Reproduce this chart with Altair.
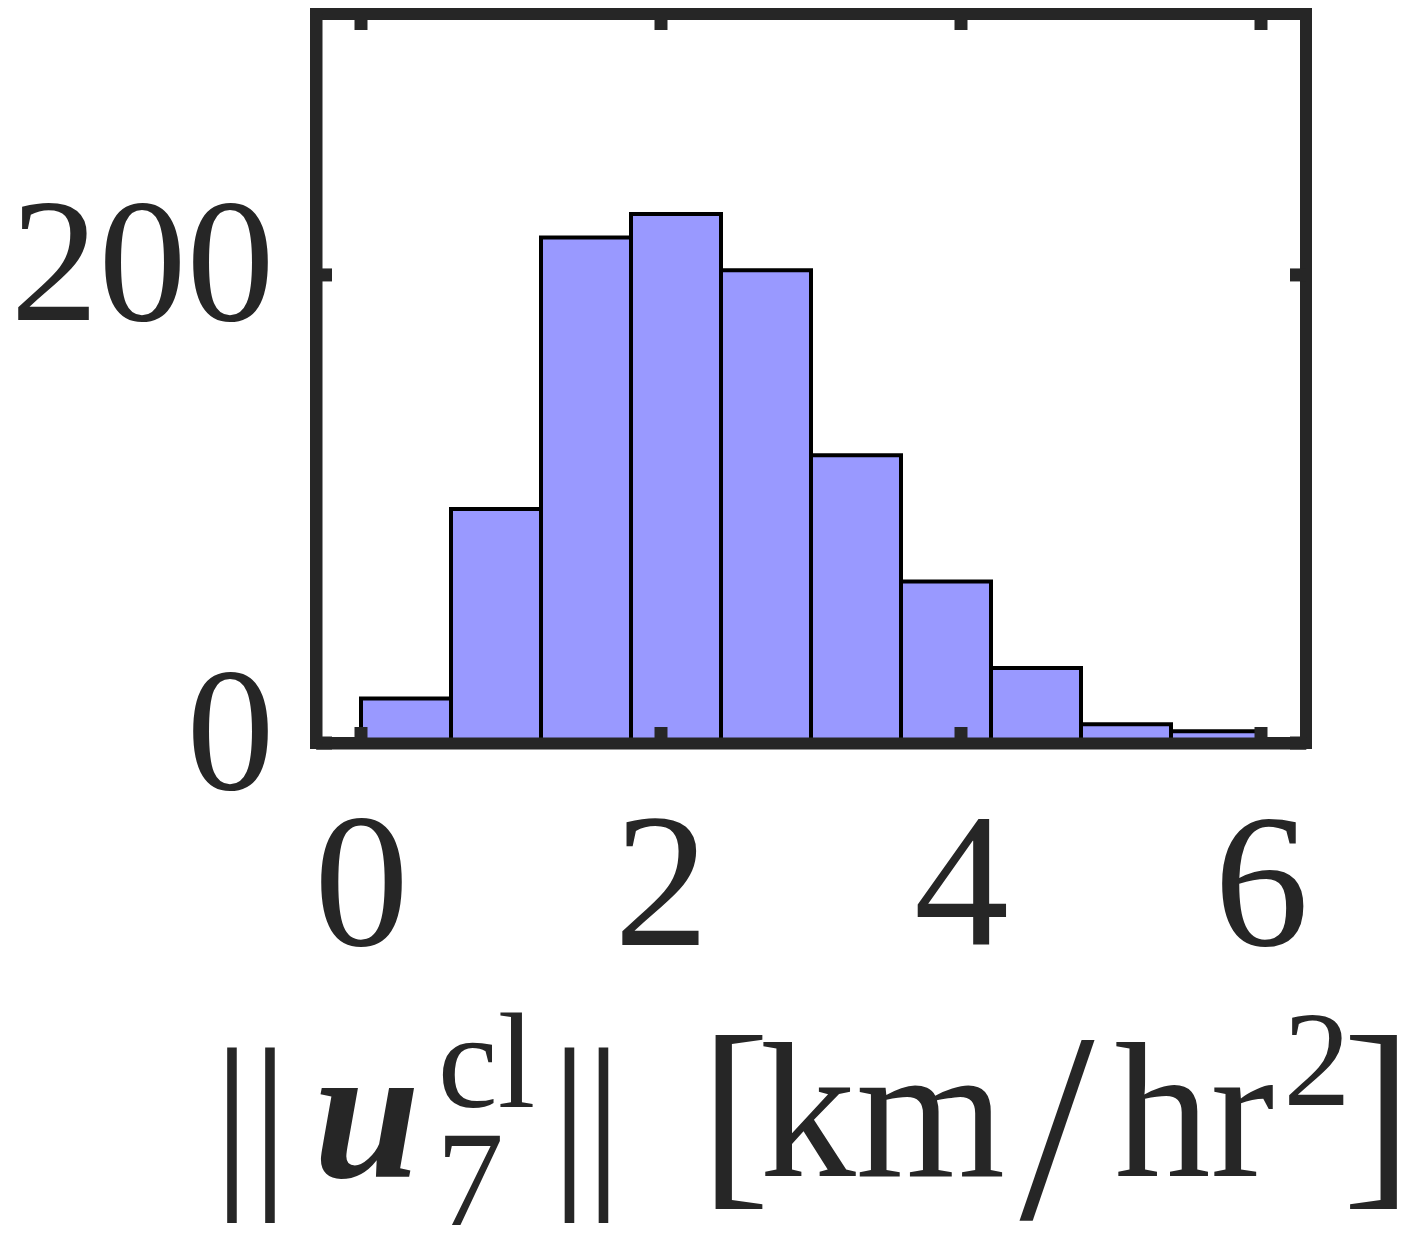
import altair as alt
import pandas as pd

# ---- data ----
BIN_EDGES = [0.0, 0.6, 1.2, 1.8, 2.4, 3.0, 3.6, 4.2, 4.8, 5.4, 6.0]
COUNTS = [19, 100, 216, 226, 202, 123, 69, 32, 8, 5]
X_TICKS = [0, 2, 4, 6]
Y_TICKS = [0, 200]
X_DOMAIN = [-0.3, 6.3]
Y_DOMAIN = [0, 311.5]

FONT = "Liberation Serif"
INK = "#262626"
W, H = 990, 729
TICK_LEN = 16

bars_df = pd.DataFrame({
    "start": BIN_EDGES[:-1],
    "end": BIN_EDGES[1:],
    "count": COUNTS,
})
xt_df = pd.DataFrame({"v": X_TICKS})
yt_df = pd.DataFrame({"v": Y_TICKS})

xscale = alt.Scale(domain=X_DOMAIN, nice=False, zero=False)
yscale = alt.Scale(domain=Y_DOMAIN, nice=False)

bars = alt.Chart(bars_df).mark_rect(
    fill="#9999ff", stroke="#000000", strokeWidth=4
).encode(
    x=alt.X("start:Q", scale=xscale,
            axis=alt.Axis(values=X_TICKS, format="d", title=None, grid=False,
                          ticks=False, domain=True, domainWidth=12, domainColor=INK,
                          labelFont=FONT, labelFontSize=190, labelColor=INK,
                          labelPadding=51, labelFlush=False, labelLimit=2000,
                          labelOverlap=False, zindex=1)),
    x2="end:Q",
    y=alt.Y("count:Q", scale=yscale,
            axis=alt.Axis(values=Y_TICKS, format="d", title=None, grid=False,
                          ticks=False, domain=True, domainWidth=12, domainColor=INK,
                          labelFont=FONT, labelFontSize=176, labelColor=INK,
                          labelPadding=42, labelOffset=-8, labelLimit=2000,
                          labelOverlap=False, zindex=1)),
    y2=alt.datum(0),
)

tick_style = dict(color=INK, strokeWidth=13)
xt_bottom = alt.Chart(xt_df).mark_rule(**tick_style).encode(
    x=alt.X("v:Q", scale=xscale), y=alt.value(H), y2=alt.value(H - TICK_LEN))
xt_top = alt.Chart(xt_df).mark_rule(**tick_style).encode(
    x=alt.X("v:Q", scale=xscale), y=alt.value(0), y2=alt.value(TICK_LEN))
yt_left = alt.Chart(yt_df).mark_rule(**tick_style).encode(
    y=alt.Y("v:Q", scale=yscale), x=alt.value(0), x2=alt.value(TICK_LEN))
yt_right = alt.Chart(yt_df).mark_rule(**tick_style).encode(
    y=alt.Y("v:Q", scale=yscale), x=alt.value(W), x2=alt.value(W - TICK_LEN))


def piece(txt, x, y, size, **kw):
    return alt.Chart(alt.Data(values=[{"k": 1}])).mark_text(
        text=txt, font=FONT, fontSize=size, color=INK,
        align="center", baseline="alphabetic", **kw
    ).encode(x=alt.value(x), y=alt.value(y))


title_layers = [
    piece("|", -84, 1167, 192),
    piece("|", -46, 1167, 192),
    piece("u", 51, 1163, 192, fontWeight="bold", fontStyle="italic"),
    piece("cl", 170.5, 1093, 135),
    piece("7", 154, 1211, 135),
    piece("|", 253.5, 1167, 192),
    piece("|", 287.5, 1167, 192),
    piece("[", 419, 1166.5, 210),
    piece("km", 566.5, 1162, 192),
    piece("/", 741, 1204, 270),
    piece("hr", 878.5, 1162, 192),
    piece("2", 1001, 1091, 135),
    piece("]", 1061.5, 1166.5, 210),
]

chart = alt.layer(
    bars, xt_bottom, xt_top, yt_left, yt_right, *title_layers
).properties(
    width=W, height=H,
    autosize=alt.AutoSizeParams(type="none"),
    padding={"left": 308, "top": 6, "right": 98, "bottom": 497},
).configure(
    background="white",
    view=alt.ViewConfig(stroke=INK, strokeWidth=12),
)

chart.save("out.html", embed_options={"renderer": "svg", "actions": False})
